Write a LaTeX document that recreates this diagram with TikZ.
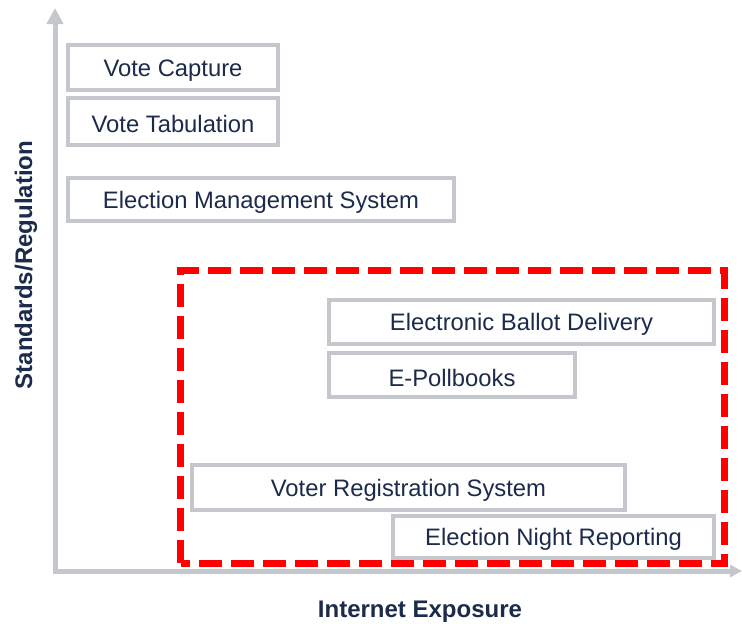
\documentclass[tikz,border=0pt]{standalone}
\usepackage{fontspec}
\setmainfont{Liberation Sans}
\usetikzlibrary{arrows.meta}
\definecolor{axisgray}{HTML}{C4C7CB}
\definecolor{boxgray}{HTML}{C4C7CB}
\definecolor{labelnavy}{HTML}{1C2A4B}
\definecolor{zonered}{HTML}{FF0000}
\tikzset{
  sysbox/.style={draw=boxgray, line width=4pt, fill=white},
  systext/.style={text=labelnavy, font=\fontsize{23.8}{28}\selectfont, inner sep=0pt, yshift=-2.5pt},
  axislabel/.style={text=labelnavy, font=\fontsize{24}{28}\selectfont\bfseries, inner sep=0pt},
  axisline/.style={draw=axisgray, line width=5pt},
  zone/.style={draw=zonered, line width=7pt, dash pattern=on 23pt off 9pt}
}
\begin{document}
\begin{tikzpicture}[x=1pt,y=-1pt]
\useasboundingbox (0,0) rectangle (742,624);

% axes
\coordinate (ytop) at (55,8);
\coordinate (ybase) at (55,573.5);
\coordinate (xstart) at (52.5,571);
\coordinate (xend) at (742,571);
\draw[axisline, -{Triangle[length=16pt,width=16pt]}] (ybase) -- (ytop);
\draw[axisline, -{Triangle[length=12pt,width=12pt]}] (xstart) -- (xend);

% system boxes
\draw[sysbox] (68,45) rectangle (278,90);
\node[systext] (vc) at (173,68.5) {Vote Capture};
\draw[sysbox] (68,98) rectangle (278,145);
\node[systext] (vt) at (173,121.5) {Vote Tabulation};
\draw[sysbox] (68,178) rectangle (454,221);
\node[systext] (ems) at (261,199.5) {Election Management System};

\draw[sysbox] (329,300) rectangle (714,344);
\node[systext] (ebd) at (521.5,322) {Electronic Ballot Delivery};
\draw[sysbox] (329,353) rectangle (575,397);
\node[systext] (epb) at (452,375) {E-Pollbooks};
\draw[sysbox] (192,465) rectangle (625,510);
\node[systext] (vrs) at (408.5,487.5) {Voter Registration System};
\draw[sysbox] (393,516) rectangle (714,558);
\node[systext] (enr) at (553.5,537) {Election Night Reporting};

% internet-exposed zone
\draw[zone] (180.5,563) -- (180.5,270) -- (724,270) -- (724,563) -- cycle;

% axis titles
\node[axislabel, rotate=90] (ylab) at (26,265) {Standards/Regulation};
\node[axislabel] (xlab) at (420,612) {Internet Exposure};
\end{tikzpicture}
\end{document}
